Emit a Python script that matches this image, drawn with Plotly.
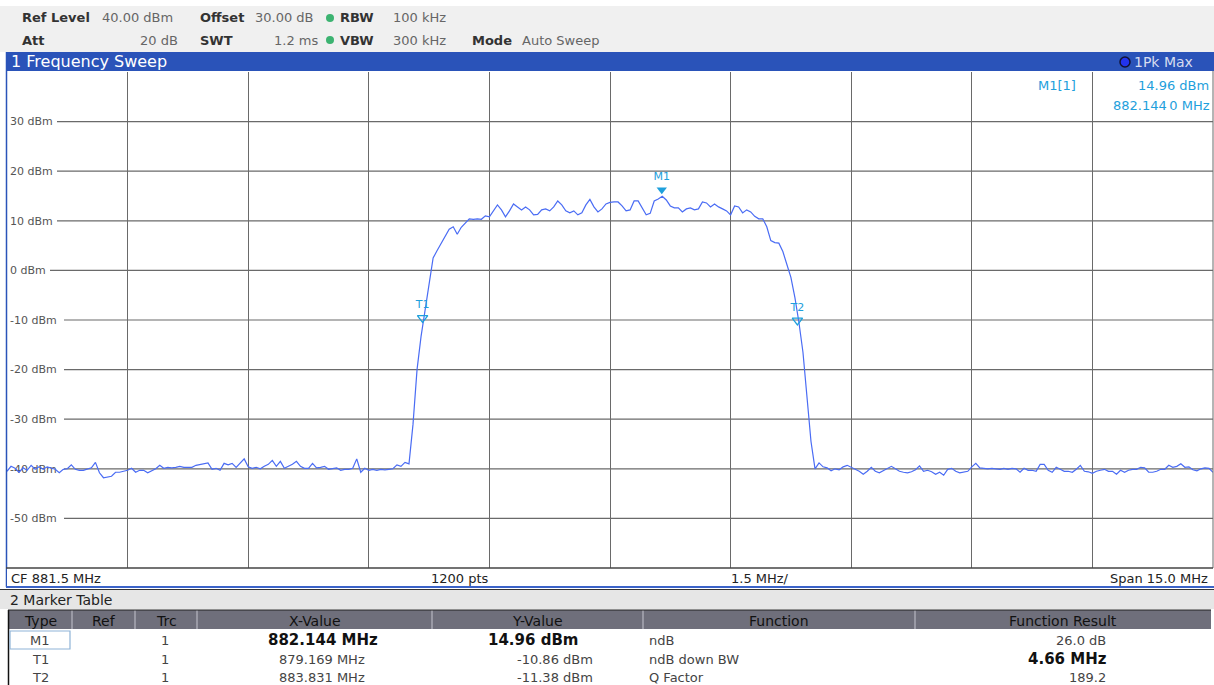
import numpy as np
import plotly.graph_objects as go

# ---------------- data ----------------
freq_start_mhz = 874.0
freq_stop_mhz = 889.0
n_points = 301
level_dbm = [
    -40.5, -39.5, -39.9, -40.7, -39.8, -40.3, -39.3, -40.1, -39.6, -40.1,
    -39.6, -39.8, -40.1, -40.8, -40.1, -40.0, -39.2, -40.1, -40.3, -40.3,
    -40.1, -39.8, -38.7, -40.8, -41.8, -41.6, -41.5, -40.7, -40.7, -40.5,
    -40.3, -39.9, -40.7, -40.3, -40.3, -40.8, -40.4, -40.0, -39.3, -39.9,
    -39.7, -39.8, -39.7, -39.5, -39.7, -39.7, -39.7, -39.3, -39.1, -38.9,
    -38.8, -40.1, -39.9, -40.3, -38.9, -39.2, -38.9, -39.7, -38.8, -38.0,
    -39.6, -39.9, -39.7, -40.0, -39.5, -39.1, -38.3, -39.5, -38.5, -39.9,
    -39.5, -39.1, -38.5, -39.5, -39.9, -39.9, -38.9, -39.8, -39.7, -39.5,
    -40.1, -40.0, -39.8, -40.3, -40.1, -40.1, -39.9, -38.0, -40.7, -39.9,
    -40.3, -40.1, -40.3, -40.1, -40.2, -40.1, -40.0, -39.2, -39.5, -38.7,
    -39.0, -31.0, -20.0, -13.3, -7.7, -3.1, 2.5, 4.0, 5.5, 7.0,
    8.3, 8.8, 7.3, 8.7, 9.6, 10.4, 10.3, 10.4, 10.3, 11.0,
    10.8, 12.0, 13.2, 12.2, 10.8, 12.0, 13.4, 12.8, 12.2, 12.8,
    12.2, 11.2, 11.3, 12.2, 12.4, 12.0, 12.8, 14.0, 13.2, 12.0,
    11.6, 12.0, 11.2, 11.6, 13.2, 14.3, 12.8, 11.8, 12.4, 13.4,
    13.7, 13.8, 13.8, 13.0, 12.0, 12.2, 14.0, 14.0, 12.6, 11.2,
    11.5, 14.0, 14.4, 14.96, 14.2, 13.0, 12.6, 12.6, 11.8, 12.4,
    12.6, 12.2, 12.4, 13.8, 13.6, 12.8, 13.4, 12.8, 12.4, 12.0,
    11.2, 13.0, 12.8, 11.6, 12.2, 11.8, 10.9, 10.4, 10.4, 8.8,
    6.0, 5.6, 5.5, 3.8, 1.2, -1.4, -5.5, -10.5, -16.5, -25.0,
    -34.5, -40.0, -38.8, -39.6, -39.8, -40.4, -40.0, -40.2, -39.6, -39.3,
    -39.7, -40.1, -40.5, -41.1, -40.5, -39.7, -40.5, -40.8, -40.4, -40.0,
    -39.5, -40.0, -40.5, -40.7, -40.8, -40.6, -40.2, -39.4, -40.5, -40.3,
    -40.6, -41.1, -40.7, -41.3, -40.1, -39.9, -40.5, -40.8, -40.6, -40.5,
    -39.6, -38.9, -39.8, -39.9, -40.0, -39.9, -40.0, -40.1, -39.9, -40.1,
    -39.9, -40.0, -40.7, -39.9, -40.3, -40.3, -40.5, -39.1, -39.1, -40.3,
    -40.7, -39.7, -40.1, -40.5, -40.5, -40.7, -40.1, -39.3, -40.5, -40.6,
    -40.9, -40.5, -40.3, -40.1, -40.5, -40.5, -41.1, -40.3, -40.7, -40.3,
    -40.1, -40.1, -39.7, -39.8, -40.7, -40.7, -40.5, -40.1, -40.1, -39.3,
    -39.7, -39.5, -39.0, -39.7, -39.6, -40.2, -40.4, -40.0, -39.8, -39.9,
    -40.7,
]

marker_names = ["M1", "T1", "T2"]
marker_freq_mhz = [882.144, 879.169, 883.831]
marker_level_dbm = [14.96, -10.86, -11.38]

ytick_vals = [30, 20, 10, 0, -10, -20, -30, -40, -50]
ytick_text = ["30 dBm", "20 dBm", "10 dBm", "0 dBm", "-10 dBm", "-20 dBm",
              "-30 dBm", "-40 dBm", "-50 dBm"]
x_div_mhz = 1.5

header_row1 = [("Ref Level", "40.00 dBm"), ("Offset", "30.00 dB"), ("RBW", "100 kHz")]
header_row2 = [("Att", "20 dB"), ("SWT", "1.2 ms"), ("VBW", "300 kHz"), ("Mode", "Auto Sweep")]
window_title = "1 Frequency Sweep"
trace_mode = "1Pk Max"
readout_label = "M1[1]"
readout_level = "14.96 dBm"
readout_freq = "882.144\u20090 MHz"
footer_texts = ["CF 881.5 MHz", "1200 pts", "1.5 MHz/", "Span 15.0 MHz"]

table_title = "2 Marker Table"
table_cols = ["Type", "Ref", "Trc", "X-Value", "Y-Value", "Function", "Function Result"]
tbl_type = ["M1", "T1", "T2"]
tbl_ref = ["", "", ""]
tbl_trc = ["1", "1", "1"]
tbl_xval = ["882.144 MHz", "879.169 MHz", "883.831 MHz"]
tbl_yval = ["14.96 dBm", "-10.86 dBm", "-11.38 dBm"]
tbl_func = ["ndB", "ndB down BW", "Q Factor"]
tbl_result = ["26.0 dB", "4.66 MHz", "189.2"]
tbl_bold_xy = [True, False, False]
tbl_bold_res = [False, True, False]

# ---------------- styling / geometry ----------------
W, H = 1214, 685
L, R, T, B = 7, 1213, 72, 568
FONT = "DejaVu Sans"
TRACE_C = "#4a6cf4"
MARK_C = "#1ea0dc"
BLUE_BAR = "#2a53b9"
GRID_C = "#6a6a6a"


def PX(x):
    return (x - L) / (R - L)


def PY(y):
    return (B - y) / (B - T)


freq_mhz = np.linspace(freq_start_mhz, freq_stop_mhz, n_points)

fig = go.Figure()

# spectrum trace
fig.add_trace(go.Scatter(
    x=freq_mhz, y=level_dbm, mode="lines",
    line=dict(color=TRACE_C, width=1.2), hoverinfo="skip", showlegend=False))

# markers (triangle tip at the measured point)
tri_off = 1.3
fig.add_trace(go.Scatter(
    x=marker_freq_mhz[:1], y=[v + tri_off for v in marker_level_dbm[:1]],
    mode="markers+text", text=marker_names[:1], textposition="top center",
    textfont=dict(family=FONT, size=11, color=MARK_C),
    marker=dict(symbol="triangle-down", size=9, color=MARK_C),
    hoverinfo="skip", showlegend=False))
fig.add_trace(go.Scatter(
    x=marker_freq_mhz[1:], y=[v + tri_off for v in marker_level_dbm[1:]],
    mode="markers+text", text=marker_names[1:], textposition="top center",
    textfont=dict(family=FONT, size=11, color=MARK_C),
    marker=dict(symbol="triangle-down-open", size=9, color=MARK_C, line=dict(width=1.3)),
    hoverinfo="skip", showlegend=False))

shapes = []
ann = []


def rect(x0, y0, x1, y1, fill, line=None, lw=0):
    shapes.append(dict(type="rect", xref="paper", yref="paper",
                       x0=PX(x0), x1=PX(x1), y0=PY(y1), y1=PY(y0),
                       fillcolor=fill, line=dict(color=line or fill, width=lw),
                       layer="above"))


def hline(x0, x1, y, color, w=1, layer="above"):
    shapes.append(dict(type="line", xref="paper", yref="paper",
                       x0=PX(x0), x1=PX(x1), y0=PY(y), y1=PY(y),
                       line=dict(color=color, width=w), layer=layer))


def vline(x, y0, y1, color, w=1, layer="above"):
    shapes.append(dict(type="line", xref="paper", yref="paper",
                       x0=PX(x), x1=PX(x), y0=PY(y0), y1=PY(y1),
                       line=dict(color=color, width=w), layer=layer))


def txt(x, y, s, size=13, color="#333", anchor="left", bold=False):
    ann.append(dict(x=PX(x), y=PY(y), xref="paper", yref="paper",
                    text=("<b>%s</b>" % s) if bold else s, showarrow=False,
                    xanchor=anchor, yanchor="middle",
                    font=dict(family=FONT, size=size, color=color)))


# horizontal gridlines (start after the inside labels)
for v, t in zip(ytick_vals, ytick_text):
    start_px = 12 + len(t) * 7.0 + 3
    shapes.append(dict(type="line", xref="paper", yref="y",
                       x0=PX(start_px), x1=1, y0=v, y1=v,
                       line=dict(color=GRID_C, width=1.2), layer="below"))

# header band
rect(0, 6, W, 52, "#f0f0f0")
lab_x1 = [20, 198, 338]
val_x1 = [100, 253, 391]
for (lab, val), lx, vx in zip(header_row1, lab_x1, val_x1):
    txt(lx, 18, lab, 13, "#333", bold=True)
    txt(vx, 18, val, 13, "#666")
lab_x2 = [20, 198, 338, 470]
val_x2 = [(180, "right"), (320, "right"), (391, "left"), (520, "left")]
for (lab, val), lx, (vx, va) in zip(header_row2, lab_x2, val_x2):
    txt(lx, 40, lab, 13, "#333", bold=True)
    txt(vx, 40, val, 13, "#666", anchor=va)
for yy in (18, 40):
    shapes.append(dict(type="circle", xref="paper", yref="paper",
                       x0=PX(326), x1=PX(334), y0=PY(yy + 4), y1=PY(yy - 4),
                       fillcolor="#3cb371", line=dict(color="#3cb371", width=0)))

# blue title bar
rect(6, 52, W, 71, BLUE_BAR)
txt(9, 62, window_title, 16, "#ffffff")
shapes.append(dict(type="circle", xref="paper", yref="paper",
                   x0=PX(1120), x1=PX(1130), y0=PY(67), y1=PY(57),
                   fillcolor="#2233ee", line=dict(color="#111133", width=1.5)))
txt(1132, 62, trace_mode, 14, "#d6dcf0")

# frame lines
vline(6.5, 52, 587, BLUE_BAR, 1.5)
vline(1213, 71, 568, GRID_C, 1)
hline(6, R, 568, "#444", 1.5)

# marker readout
txt(1078, 85, readout_label, 13, MARK_C, anchor="right")
txt(1211, 85, readout_level, 13, MARK_C, anchor="right")
txt(1212, 105, readout_freq, 13, MARK_C, anchor="right")

# footer row
rect(7, 569, W, 586, "#ffffff")
txt(9, 578, footer_texts[0], 13, "#222")
txt(460, 578, footer_texts[1], 13, "#222", anchor="center")
txt(760, 578, footer_texts[2], 13, "#222", anchor="center")
txt(1210, 578, footer_texts[3], 13, "#222", anchor="right")
hline(6, W, 587, "#3b63c8", 2)

# marker table
rect(0, 589, W, 609, "#e6e6e6")
hline(0, W, 589.5, "#333", 1.2)
txt(8, 600, table_title, 14, "#222")
rect(8, 610, 1211, 629, "#6f6f7b")
col_edges = [8, 72, 135, 197, 432, 643, 915, 1211]
for xe in col_edges[1:-1]:
    vline(xe, 610, 629, "#a9a9b3", 1.5)
for i, c in enumerate(table_cols):
    cx = (col_edges[i] + col_edges[i + 1]) / 2
    txt(cx, 621, c, 14, "#111", anchor="center")
vline(8.5, 610, H, "#111", 1.5)
hline(8, 1211, 610, "#222", 1.2)
rect(10, 631, 70, 649, "#ffffff", line="#8fb4d8", lw=1.2)
row_y = [640, 659, 677]
for k in range(3):
    y = row_y[k]
    txt(40, y, tbl_type[k], 13, "#444", anchor="center")
    txt(103, y, tbl_ref[k], 13, "#444", anchor="center")
    txt(165, y, tbl_trc[k], 13, "#444", anchor="center")
    if tbl_bold_xy[k]:
        txt(380, y, tbl_xval[k], 15, "#111", anchor="right", bold=True)
        txt(580, y, tbl_yval[k], 15, "#111", anchor="right", bold=True)
    else:
        txt(367, y, tbl_xval[k], 13, "#444", anchor="right")
        txt(595, y, tbl_yval[k], 13, "#444", anchor="right")
    txt(647, y, tbl_func[k], 13, "#444")
    if tbl_bold_res[k]:
        txt(1109, y, tbl_result[k], 15, "#111", anchor="right", bold=True)
    else:
        txt(1108, y, tbl_result[k], 13, "#444", anchor="right")

fig.update_layout(
    width=W, height=H,
    margin=dict(l=L, r=W - R, t=T, b=H - B, pad=0),
    paper_bgcolor="#ffffff", plot_bgcolor="#ffffff",
    shapes=shapes, annotations=ann,
    showlegend=False,
    xaxis=dict(range=[freq_start_mhz, freq_stop_mhz], tick0=freq_start_mhz, dtick=x_div_mhz,
               showgrid=True, gridcolor=GRID_C, gridwidth=1.2, showticklabels=False,
               zeroline=False, showline=False, ticks="", fixedrange=True),
    yaxis=dict(range=[-60, 40], tickvals=ytick_vals, ticktext=ytick_text,
               ticklabelposition="inside", ticks="", showgrid=False, zeroline=False,
               showline=False, layer="below traces",
               tickfont=dict(family=FONT, size=11, color="#555"), fixedrange=True),
)

fig.write_html(
    "out.html",
    config={"displayModeBar": False},
    post_script="document.body.style.margin='0';document.body.style.padding='0';"
                "document.body.style.overflow='hidden';",
)
